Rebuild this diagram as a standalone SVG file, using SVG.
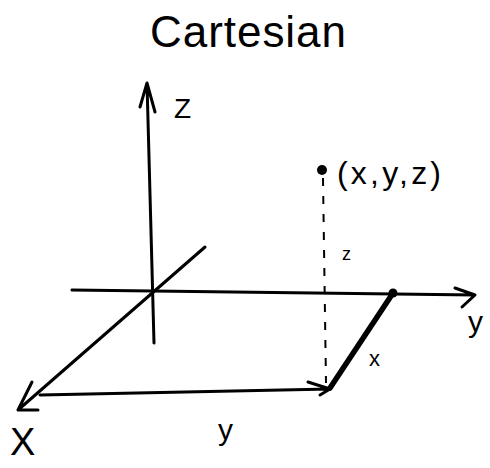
<svg xmlns="http://www.w3.org/2000/svg" width="490" height="468" viewBox="0 0 490 468">
<style>
.ln{stroke:#000;stroke-width:3;fill:none;stroke-linecap:round;stroke-linejoin:round}
.thick{stroke:#000;stroke-width:5.5;fill:none;stroke-linecap:round}
.dash{stroke:#000;stroke-width:2;fill:none;stroke-dasharray:8 10}
.t{font-family:"Liberation Sans",Arial,sans-serif;fill:#000}
</style>
<rect width="490" height="468" fill="#fff"/>
<text class="t" x="150" y="47" font-size="44" textLength="196">Cartesian</text>
<g id="connectors">
  <!-- z axis -->
  <path class="ln" d="M154 343 L147 83 M140 107 L147 83 L155 112"/>
  <!-- y axis -->
  <path class="ln" d="M72 290 L475 295 M455 288 L475 295 L462 307"/>
  <!-- x axis -->
  <path class="ln" d="M205 247 L18 410 M32 382 L18 410 L38 410"/>
  <!-- bottom y segment -->
  <path class="ln" d="M40 395 L330 389 M308 382 L330 389 L320 395"/>
  <!-- thick x segment -->
  <path class="thick" d="M393 293 L330 388"/>
  <!-- dashed projection -->
  <path class="dash" d="M323 178 L326 383"/>
</g>
<g id="point">
  <circle cx="322" cy="170" r="5" fill="#000"/>
  <text class="t" x="337" y="184" font-size="32" textLength="104">(x,y,z)</text>
</g>
<g id="ydot"><circle cx="393" cy="293" r="4.5" fill="#000"/></g>
<g id="labels">
  <text class="t" x="174" y="118" font-size="28">Z</text>
  <text class="t" x="342" y="260" font-size="18">z</text>
  <text class="t" x="468" y="332" font-size="30">y</text>
  <text class="t" x="369" y="366" font-size="22">x</text>
  <text class="t" x="218" y="440" font-size="30">y</text>
  <text class="t" x="10" y="455" font-size="38">X</text>
</g>
</svg>
